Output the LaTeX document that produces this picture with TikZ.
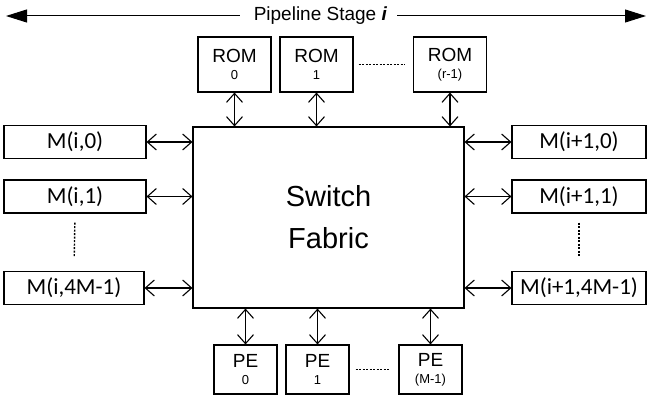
\documentclass[tikz,border=0pt]{standalone}
\usepackage{fontspec}
\setmainfont{Liberation Sans}
\newfontfamily\calfont{Carlito}
\usetikzlibrary{arrows.meta}
\begin{document}
\begin{tikzpicture}[x=1pt,y=-1pt,
  box/.style={draw, line width=1.1pt, inner sep=0pt, align=center},
  rombox/.style={box, minimum width=73pt, minimum height=55pt, font=\fontsize{19}{17}\selectfont},
  pebox/.style={box, minimum width=63pt, minimum height=49pt, font=\fontsize{19}{17}\selectfont},
  membox/.style={box, minimum height=33pt, font=\calfont\fontsize{23}{23}\selectfont},
  bidir/.style={{Straight Barb[length=9pt,width=16pt]}-{Straight Barb[length=9pt,width=16pt]}, line width=1.1pt},
  dots/.style={line width=1.4pt, dash pattern=on 2pt off 1.5pt}
]
\useasboundingbox (0,0) rectangle (651,395);

% title arrow
\node[font=\fontsize{19}{19}\selectfont, inner sep=0pt] (ps) at (320.5,16) {Pipeline Stage \textbf{\textit{i}}};
\coordinate (pl) at (6,16);
\coordinate (pr) at (646,16);
\draw[-{Triangle[length=21pt,width=13pt]}, line width=1pt, shorten <=14pt] (ps.west) -- (pl);
\draw[-{Triangle[length=21pt,width=13pt]}, line width=1pt, shorten <=10pt] (ps.east) -- (pr);

% switch fabric
\node[box, minimum width=271pt, minimum height=181pt, font=\fontsize{29}{42}\selectfont] (sf) at (328.5,217.5) {Switch\\Fabric};

% ROMs
\node[rombox] (r0) at (234.5,64.5) {ROM\\{\fontsize{13}{17}\selectfont 0}};
\node[rombox] (r1) at (316.5,64.5) {ROM\\{\fontsize{13}{17}\selectfont 1}};
\node[rombox] (rr) at (450,64.5) {ROM\\{\fontsize{13}{17}\selectfont (r-1)}};
\draw[dots, shorten <=5pt, shorten >=8pt] (r1.east) -- (rr.west);
\foreach \n in {r0,r1,rr} \draw[bidir] (\n.south) -- (\n.south |- sf.north);

% PEs
\node[pebox] (p0) at (245.5,369.5) {PE\\{\fontsize{13}{17}\selectfont 0}};
\node[pebox] (p1) at (317.5,369.5) {PE\\{\fontsize{13}{17}\selectfont 1}};
\node[pebox] (pm) at (430.5,369.5) {PE\\{\fontsize{13}{17}\selectfont (M-1)}};
\draw[dots, shorten <=6pt, shorten >=8pt, yshift=-2.5pt] (p1.east) -- (pm.west);
\foreach \n in {p0,p1,pm} \draw[bidir] (\n.north) -- (\n.north |- sf.south);

% memories left
\node[membox, minimum width=142pt] (ml0) at (75,142) {M(i,0)};
\node[membox, minimum width=142pt] (ml1) at (75,196.5) {M(i,1)};
\node[membox, minimum width=140pt] (mlk) at (74,288) {M(i,4M-1)};
\draw[dots, xshift=13pt, shorten <=9pt, shorten >=14pt] (ml1.south) -- (mlk.north);
\foreach \n in {ml0,ml1,mlk} \draw[bidir] (\n.east) -- (\n.east -| sf.west);

% memories right
\node[membox, minimum width=134pt] (mr0) at (579,142) {M(i+1,0)};
\node[membox, minimum width=134pt] (mr1) at (579,196.5) {M(i+1,1)};
\node[membox, minimum width=134pt] (mrk) at (579,288) {M(i+1,4M-1)};
\draw[dots, xshift=-17pt, shorten <=9pt, shorten >=14pt] (mr1.south) -- (mrk.north);
\foreach \n in {mr0,mr1,mrk} \draw[bidir] (\n.west) -- (\n.west -| sf.east);
\end{tikzpicture}
\end{document}
